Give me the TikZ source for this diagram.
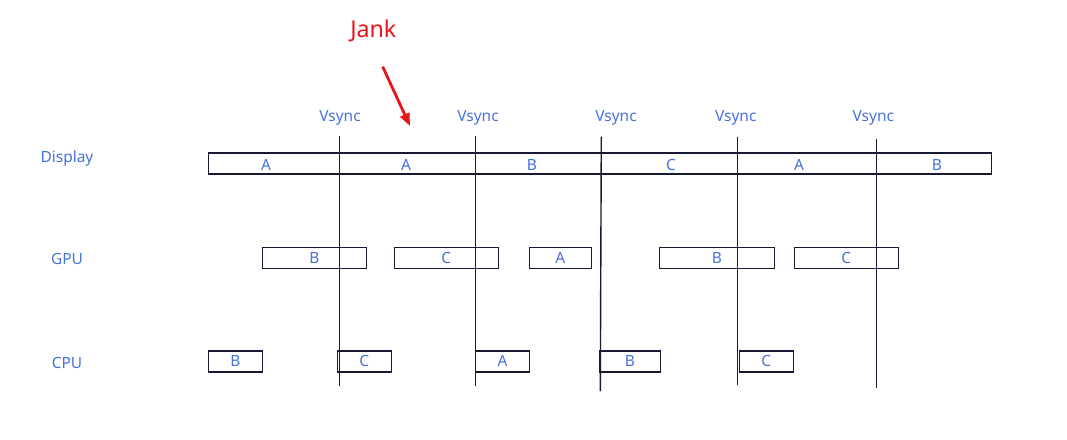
\documentclass[tikz,border=0pt]{standalone}
\usepackage{fontspec}
\setmainfont{Noto Sans}
\usetikzlibrary{arrows.meta}
\definecolor{lbl}{RGB}{70,112,218}
\definecolor{frame}{RGB}{25,25,50}
\definecolor{jankred}{RGB}{232,20,25}

\begin{document}
\begin{tikzpicture}[x = 0.025cm, y = -0.025cm, line width = 1pt,
  lab/.style = {text = lbl, font = \fontsize{11}{13}\selectfont, inner sep = 0pt},
  box/.style = {draw = frame, rectangle, inner sep = 0pt, minimum height = 21*0.025cm, lab},
  wd/.style = {minimum width = #1*0.025cm},
  sync/.style = {draw = frame, line width = 1pt}]
\useasboundingbox (0,0) rectangle (1067,440);
% row names
\draw (67,158) node[lab](disp){Display}
    (67,259) node[lab](gpu){GPU}
    (67,363) node[lab](cpu){CPU};
% display bar
\draw (599.8,163.3) node[box, wd = 783](bar){}
    (266,165) node[lab](d1){A}
    (406,165) node[lab](d2){A}
    (532,165) node[lab](d3){B}
    (671,165) node[lab](d4){C}
    (799,165) node[lab](d5){A}
    (937,165) node[lab](d6){B};
% gpu frames
\draw (314.5,257.8) node[box, wd = 104](g1){B}
    (446.3,257.8) node[box, wd = 104](g2){C}
    (560.3,257.8) node[box, wd = 62](g3){A}
    (716.8,257.8) node[box, wd = 115](g4){B}
    (846.3,257.8) node[box, wd = 104](g5){C};
% cpu frames
\draw (235.3,361.3) node[box, wd = 54](c1){B}
    (364.3,361.3) node[box, wd = 54](c2){C}
    (502.5,361.3) node[box, wd = 54](c3){A}
    (629.8,361.3) node[box, wd = 61](c4){B}
    (766.3,361.3) node[box, wd = 54](c5){C};
% vsync lines
\draw (340,118) node[lab](s1){Vsync}
    (478,118) node[lab](s2){Vsync}
    (616,118) node[lab](s3){Vsync}
    (735.7,118) node[lab](s4){Vsync}
    (873.3,118) node[lab](s5){Vsync};
\coordinate (t1) at (339.3,136);
\coordinate (b1) at (339.3,386);
\coordinate (t2) at (475.3,136);
\coordinate (b2) at (475.3,386);
\coordinate (t3) at (601.3,136.7);
\coordinate (b3) at (600.3,391);
\coordinate (t4) at (737.3,136.7);
\coordinate (b4) at (737.3,385);
\coordinate (t5) at (876.3,138.7);
\coordinate (b5) at (876.3,388);
\draw [sync] (t1) -- (b1);
\draw [sync] (t2) -- (b2);
\draw [sync] (t3) -- (b3);
\draw [sync] (t4) -- (b4);
\draw [sync] (t5) -- (b5);
% jank
\draw (373.3,31) node[text = jankred, font = \fontsize{16.5}{19}\selectfont, inner sep = 0pt](jank){Jank};
\coordinate (j1) at (382.7,66.7);
\coordinate (j2) at (410,126);
\draw [-{Triangle[length = 9pt, width = 7pt]}, jankred, line width = 2pt] (j1) -- (j2);
\end{tikzpicture}
\end{document}
